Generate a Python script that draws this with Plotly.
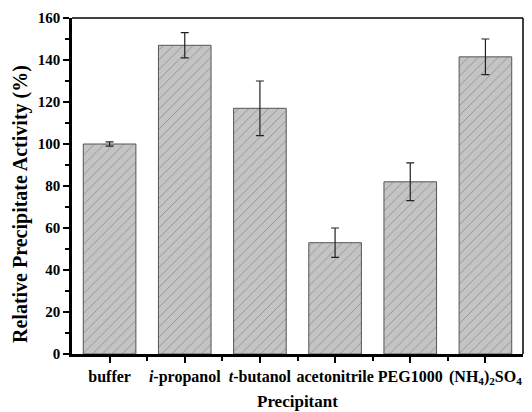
import plotly.graph_objects as go

categories = ["buffer", "i-propanol", "t-butanol", "acetonitrile", "PEG1000", "(NH4)2SO4"]
tick_labels = ["buffer", "<i>i</i>-propanol", "<i>t</i>-butanol", "acetonitrile", "PEG1000",
               "(NH<sub>4</sub>)<sub>2</sub>SO<sub>4</sub>"]
activity = [100, 147, 117, 53, 82, 141.5]
errors = [1, 6, 13, 7, 9, 8.5]

xpos = list(range(len(categories)))
FONT = "Liberation Serif"
L, R, T, B = 72, 9, 18, 58
PW, PH = 532 - L - R, 412 - T - B

fig = go.Figure()
fig.add_trace(go.Bar(
    x=xpos, y=activity, width=0.7,
    marker=dict(color="#c4c4c4",
                line=dict(color="#555555", width=1),
                pattern=dict(shape="/", fgcolor="#555555", bgcolor="#c4c4c4",
                             size=7, solidity=0.12)),
    error_y=dict(type="data", array=errors, visible=True, color="#222222",
                 thickness=1.2, width=4),
    hoverinfo="skip",
))

fig.update_layout(
    width=532, height=412,
    margin=dict(l=L, r=R, t=T, b=B, autoexpand=False),
    plot_bgcolor="white", paper_bgcolor="white",
    showlegend=False,
    font=dict(family=FONT, size=16, color="black"),
    xaxis=dict(
        range=[-0.5, 5.5], tickmode="array", tickvals=xpos, ticktext=tick_labels,
        ticks="outside", ticklen=6, tickwidth=2, tickcolor="black",
        showline=True, linewidth=2.5, linecolor="black", mirror=False,
        showgrid=False, zeroline=False, automargin=False,
        tickfont=dict(family=FONT, size=16, color="black", weight="bold"),
        minor=dict(tickmode="array", tickvals=[i + 0.5 for i in xpos[:-1]],
                   ticks="outside", ticklen=4, tickwidth=2, tickcolor="black"),
    ),
    yaxis=dict(
        range=[0, 160], tickmode="linear", tick0=0, dtick=20,
        ticks="outside", ticklen=6, tickwidth=2, tickcolor="black",
        showline=True, linewidth=2.5, linecolor="black", mirror=False,
        showgrid=False, zeroline=False, automargin=False,
        tickfont=dict(family=FONT, size=15, color="black", weight="bold"),
        minor=dict(dtick=10, ticks="outside", ticklen=4, tickwidth=2, tickcolor="black"),
    ),
)

fig.add_annotation(text="<b>Precipitant</b>", xref="paper", yref="paper",
                   x=0.5, y=-(401 - (T + PH)) / PH,
                   xanchor="center", yanchor="middle", showarrow=False,
                   font=dict(family=FONT, size=17, color="black"))
fig.add_annotation(text="<b>Relative Precipitate Activity (%)</b>", xref="paper", yref="paper",
                   x=-(L - 20) / PW, y=1 - (204 - T) / PH, textangle=-90,
                   xanchor="center", yanchor="middle", showarrow=False,
                   font=dict(family=FONT, size=20, color="black"))

# thinner top and right frame lines
fig.add_shape(type="line", xref="paper", yref="paper", x0=0, x1=1, y0=1, y1=1,
              line=dict(color="black", width=1.5))
fig.add_shape(type="line", xref="paper", yref="paper", x0=1, x1=1, y0=0, y1=1,
              line=dict(color="black", width=1.5))

fig.write_html("out.html")
